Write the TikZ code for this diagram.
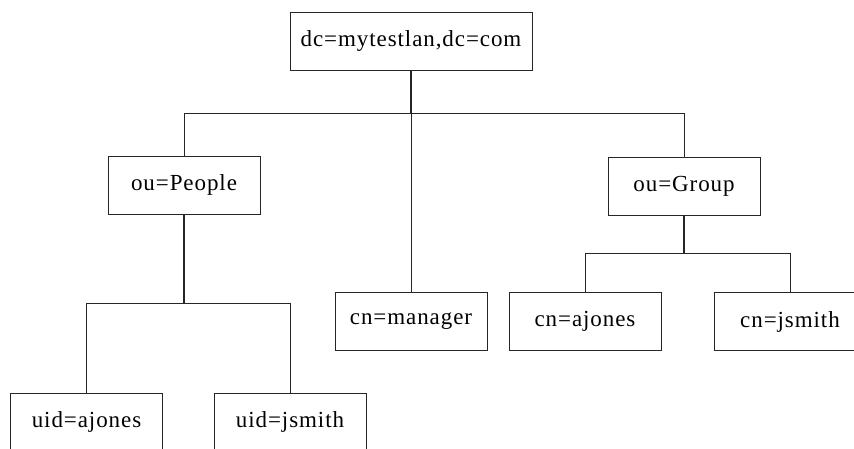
\documentclass[tikz,border=0pt]{standalone}
\usepackage{fontspec}
\setmainfont{Liberation Serif}[LetterSpace=4]
\begin{document}
\begin{tikzpicture}[x=1pt,y=-1pt,
  box/.style={draw=black!85, line width=1pt, minimum width=152pt, minimum height=58pt,
    inner sep=0pt, font=\fontsize{23}{27}\selectfont, fill=white},
  conn/.style={draw=black!85, line width=1pt}]
\useasboundingbox (0,0) rectangle (854,448);
\fill[white] (0,0) rectangle (854,448);
\node[box, minimum width=242pt] (root) at (411,41) {dc=mytestlan,dc=com};
\node[box] (people) at (184,185) {ou=People};
\node[box] (group) at (684,186) {ou=Group};
\node[box] (mgr) at (411,321.5) {cn=manager};
\node[box] (cnaj) at (585,321.5) {cn=ajones};
\node[box] (cnjs) at (790,321.5) {cn=jsmith};
\node[box] (uidaj) at (86.5,422) {uid=ajones};
\node[box] (uidjs) at (290,422) {uid=jsmith};
\coordinate (rj) at (411,113);
\coordinate (pj) at (184,303);
\coordinate (gj) at (684,253);
\draw[conn, line width=1.4pt] (root.south) -- (rj);
\draw[conn] (people.north) -- (people.north |- rj) -- (group.north |- rj) -- (group.north);
\draw[conn] (rj) -- (mgr.north);
\draw[conn, line width=1.4pt] (people.south) -- (pj);
\draw[conn] (uidaj.north) -- (uidaj.north |- pj) -- (uidjs.north |- pj) -- (uidjs.north);
\draw[conn, line width=1.4pt] (group.south) -- (gj);
\draw[conn] (cnaj.north) -- (cnaj.north |- gj) -- (cnjs.north |- gj) -- (cnjs.north);
\end{tikzpicture}
\end{document}
